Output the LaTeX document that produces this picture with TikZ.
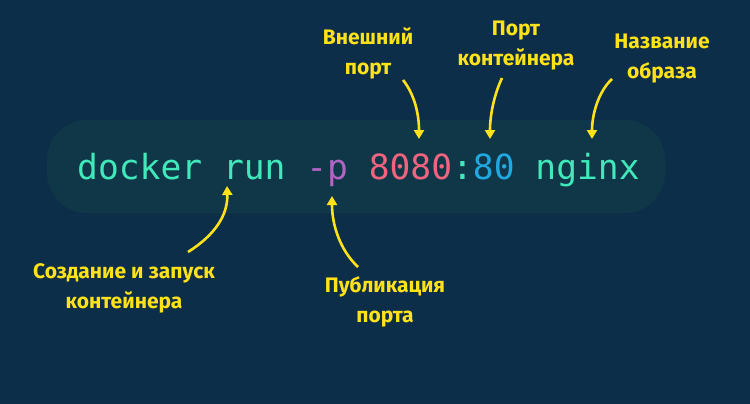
\documentclass[tikz,border=0pt]{standalone}
\usepackage{fontspec}
\setmainfont{Fira Sans}
\setmonofont{DejaVu Sans Mono}
\usetikzlibrary{arrows.meta}
\definecolor{bg}{HTML}{0D2E48}
\definecolor{band}{HTML}{0F3748}
\definecolor{cmd}{HTML}{40E8BA}
\definecolor{flag}{HTML}{B064C4}
\definecolor{ext}{HTML}{F2647E}
\definecolor{cport}{HTML}{22A8E0}
\definecolor{lab}{HTML}{FFE21A}
\tikzset{
  lbl/.style={text=lab, font=\bfseries\fontsize{21}{30}\selectfont, align=center, inner sep=0pt},
  arr/.style={draw=lab, line width=2.6pt, -{Triangle[width=10pt,length=9pt]}},
}
\begin{document}
\begin{tikzpicture}[x=1pt,y=-1pt]
\useasboundingbox (0,0) rectangle (750,404);
\fill[bg] (0,0) rectangle (750,404);
\fill[band, rounded corners=40pt] (47,120) rectangle (665,213);
\node[anchor=base west, inner sep=0pt, font=\ttfamily\fontsize{34.6}{40}\selectfont] (cmdline) at (77,179)
  {\textcolor{cmd}{docker\ run}\ \textcolor{flag}{-p}\ \textcolor{ext}{8080}\textcolor{cmd}{:}\textcolor{cport}{80}\ \textcolor{cmd}{nginx}};
\node[lbl] (l1) at (368,53) {Внешний\\порт};
\node[lbl] (l2) at (516,46) {Порт\\контейнера};
\node[lbl] (l3) at (662,59) {Название\\образа};
\node[lbl] (l4) at (124,288) {Создание и запуск\\контейнера};
\node[lbl] (l5) at (385,302) {Публикация\\порта};
\coordinate (a1s) at (403,80); \coordinate (a1e) at (419,139);
\coordinate (a2s) at (502,78); \coordinate (a2e) at (490,139);
\coordinate (a3s) at (612,79); \coordinate (a3e) at (592,139);
\coordinate (a4s) at (188,252); \coordinate (a4e) at (227,186);
\coordinate (a5s) at (358,267); \coordinate (a5e) at (332,196);
\draw[arr] (a1s) .. controls (415,95) and (419,115) .. (a1e);
\draw[arr] (a2s) .. controls (494,95) and (490,115) .. (a2e);
\draw[arr] (a3s) .. controls (598,92) and (592,115) .. (a3e);
\draw[arr] (a4s) .. controls (215,235) and (228,215) .. (a4e);
\draw[arr] (a5s) .. controls (340,250) and (332,225) .. (a5e);
\end{tikzpicture}
\end{document}
